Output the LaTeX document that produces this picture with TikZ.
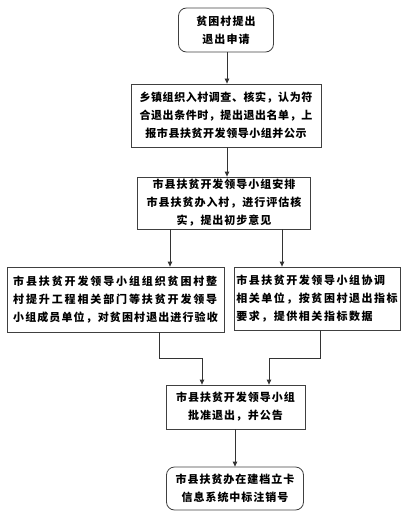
\documentclass[tikz,border=0pt]{standalone}
\usepackage{fontspec}
\newfontfamily\cjk{Noto Sans CJK SC}
\usetikzlibrary{arrows.meta}
\tikzset{
  box/.style={draw=black!75, line width=0.8pt, align=center, inner sep=0pt,
    font=\cjk\bfseries\fontsize{11pt}{18pt}\selectfont},
  rbox/.style={box, rounded corners=8pt},
  conn/.style={draw=black!80, line width=0.8pt, -{Triangle[width=4.5pt,length=5pt]}},
}
\begin{document}
\begin{tikzpicture}[x=1pt,y=-1pt]
\useasboundingbox (0,0) rectangle (410,516);
\node[rbox, minimum width=95pt, minimum height=44pt] (b1) at (226,30)
  {\addfontfeature{LetterSpace=10}贫困村提出\\\addfontfeature{LetterSpace=10}退出申请};
\node[box, minimum width=190pt, minimum height=63pt] (b2) at (226,115.5)
  {\addfontfeature{LetterSpace=5}乡镇组织入村调查、核实，认为符\\
   \addfontfeature{LetterSpace=5}合退出条件时，提出退出名单，上\\
   \addfontfeature{LetterSpace=5}报市县扶贫开发领导小组并公示};
\node[box, minimum width=173pt, minimum height=52pt] (b3) at (224,203)
  {\addfontfeature{LetterSpace=9}市县扶贫开发领导小组安排\\
   \addfontfeature{LetterSpace=9}市县扶贫办入村，进行评估核\\
   \addfontfeature{LetterSpace=9}实，提出初步意见};
\node[box, minimum width=217pt, minimum height=65pt, align=left] (b4) at (115.5,299.5)
  {\addfontfeature{LetterSpace=17}市县扶贫开发领导小组组织贫困村整\\
   \addfontfeature{LetterSpace=17}村提升工程相关部门等扶贫开发领导\\
   \addfontfeature{LetterSpace=10}小组成员单位，对贫困村退出进行验收};
\node[box, minimum width=166pt, minimum height=63pt, align=left] (b5) at (317,298.5)
  {\addfontfeature{LetterSpace=14}市县扶贫开发领导小组协调\\
   \addfontfeature{LetterSpace=14}相关单位，按贫困村退出指标\\
   \addfontfeature{LetterSpace=14}要求，提供相关指标数据};
\node[box, minimum width=139pt, minimum height=44pt] (b6) at (235.5,407)
  {\addfontfeature{LetterSpace=9}市县扶贫开发领导小组\\\addfontfeature{LetterSpace=9}批准退出，并公告};
\node[rbox, minimum width=137pt, minimum height=43pt] (b7) at (235,488.5)
  {\addfontfeature{LetterSpace=9}市县扶贫办在建档立卡\\\addfontfeature{LetterSpace=9}信息系统中标注销号};

\coordinate (j4) at (159,358);
\coordinate (j5) at (320,358);
\draw[conn] (b1.south -| 227,0) -- (b2.north -| 227,0);
\draw[conn] (b2.south -| 227,0) -- (b3.north -| 227,0);
\draw[conn] (b3.south -| 170,0) -- (b4.north -| 170,0);
\draw[conn] (b3.south -| 282,0) -- (b5.north -| 282,0);
\draw[conn] (b4.south -| j4) -- (j4) -| (b6.north -| 202,0);
\draw[conn] (b5.south -| j5) -- (j5) -| (b6.north -| 269,0);
\draw[conn] (b6.south -| 235,0) -- (b7.north -| 235,0);
\end{tikzpicture}
\end{document}
